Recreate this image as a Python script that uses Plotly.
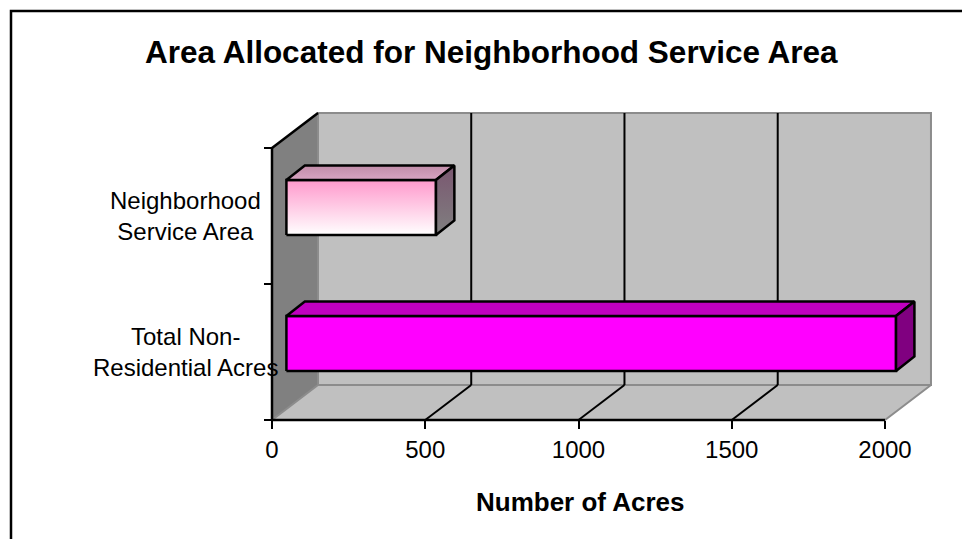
import plotly.graph_objects as go

# ---------------- data ----------------
categories = ["Total Non-<br>Residential Acres", "Neighborhood<br>Service Area"]
acres = [1989, 488]
x_ticks = [0, 500, 1000, 1500, 2000]
x_max = 2000
title_text = "Area Allocated for Neighborhood Service Area"
x_title = "Number of Acres"

# ---------------- layout geometry ----------------
W, H = 962, 539
X0PX, Y0PX = 272, 420          # pixel of (0 acres, category floor)
S = 613 / 2000                 # px per acre
T = 136                        # px per category band
xr = [(0 - X0PX) / S, (W - X0PX) / S]
yr = [(Y0PX - H) / T, Y0PX / T]
ncat = len(categories)

DX, DY = 150, 0.257            # wall depth (acres, category units)
BOX, BOY = 47, 0.36            # bar front offset
BH = 0.405                     # bar height
BDX, BDY = 60, 0.107           # bar depth

FONT = "Liberation Sans, Arial, sans-serif"
bar_styles = [
    dict(front="#FF00FF", top="#C000C0", side="#800080"),
    dict(front=("#FFFFFF", "#FF99CC"), top=("#D8A4C2", "#C08CA8"), side=("#808080", "#7A5670")),
]

fig = go.Figure()


def poly(xs, ys, fill=None, line_color=None, lw=0, grad=None):
    kw = {}
    if grad is not None:
        kw["fillgradient"] = dict(type="vertical", colorscale=[[0, grad[0]], [1, grad[1]]])
    elif fill is not None:
        kw["fillcolor"] = fill
    fig.add_trace(go.Scatter(
        x=list(xs) + [xs[0]], y=list(ys) + [ys[0]], mode="lines",
        fill="toself" if (fill is not None or grad is not None) else None,
        line=dict(color=line_color or "rgba(0,0,0,0)", width=lw),
        hoverinfo="skip", showlegend=False, **kw))


def seg(xs, ys, color, lw):
    fig.add_trace(go.Scatter(x=xs, y=ys, mode="lines", line=dict(color=color, width=lw),
                             hoverinfo="skip", showlegend=False))


# side wall
poly([0, 0, DX, DX], [0, ncat, ncat + DY, DY], fill="#808080")
# back wall
poly([DX, DX, x_max + DX, x_max + DX], [DY, ncat + DY, ncat + DY, DY],
     fill="#C0C0C0", line_color="#8C8C8C", lw=2)
# floor
poly([0, x_max, x_max + DX, DX], [0, 0, DY, DY], fill="#C0C0C0", line_color="#8C8C8C", lw=2)

# gridlines on back wall and floor
for t in x_ticks[1:-1]:
    seg([t + DX, t + DX], [DY, ncat + DY], "black", 2)
    seg([t, t + DX], [0, DY], "black", 2)

# wall edges
seg([0, 0], [0, ncat], "black", 2.5)
seg([0, DX], [ncat, ncat + DY], "black", 2.5)
seg([0, x_max], [0, 0], "black", 2.5)

# bars
for i, (v, st) in enumerate(zip(acres, bar_styles)):
    yb = i + BOY
    yt = yb + BH
    fx = [BOX, BOX + v, BOX + v, BOX]
    fy = [yb, yb, yt, yt]
    tx = [BOX, BOX + v, BOX + v + BDX, BOX + BDX]
    ty = [yt, yt, yt + BDY, yt + BDY]
    sx = [BOX + v, BOX + v + BDX, BOX + v + BDX, BOX + v]
    sy = [yb, yb + BDY, yt + BDY, yt]
    for xs, ys, key in ((fx, fy, "front"), (tx, ty, "top"), (sx, sy, "side")):
        c = st[key]
        if isinstance(c, tuple):
            poly(xs, ys, grad=c, line_color="black", lw=2.5)
        else:
            poly(xs, ys, fill=c, line_color="black", lw=2.5)

# category labels
for i, cat in enumerate(categories):
    fig.add_annotation(x=185 / W, xref="paper", y=i + 0.5, yref="y", text=cat,
                       showarrow=False, align="center", xanchor="center", yanchor="middle",
                       font=dict(family=FONT, size=24, color="black"))

fig.add_annotation(x=491.5 / W, y=1 - 52 / H, xref="paper", yref="paper",
                   text="<b>" + title_text + "</b>", showarrow=False,
                   xanchor="center", yanchor="middle",
                   font=dict(family=FONT, size=31.5, color="black"))
fig.add_annotation(x=580 / W, y=1 - 502 / H, xref="paper", yref="paper",
                   text="<b>" + x_title + "</b>", showarrow=False,
                   xanchor="center", yanchor="middle",
                   font=dict(family=FONT, size=26, color="black"))

# chart border (left + top)
fig.add_shape(type="rect", xref="paper", yref="paper",
              x0=11 / W, x1=1.05, y0=-0.05, y1=1 - 11 / H,
              line=dict(color="black", width=2.5), fillcolor="rgba(0,0,0,0)", layer="above")

fig.update_layout(
    width=W, height=H, margin=dict(l=0, r=0, t=0, b=0),
    paper_bgcolor="white", plot_bgcolor="white",
    font=dict(family=FONT, size=24, color="black"),
    xaxis=dict(range=xr, anchor="free", position=(H - Y0PX) / H,
               tickvals=x_ticks, ticks="outside", ticklen=8, tickwidth=2, tickcolor="black",
               showgrid=False, zeroline=False, showline=False,
               tickfont=dict(family=FONT, size=24, color="black"), fixedrange=True),
    yaxis=dict(range=yr, anchor="free", position=X0PX / W,
               tickvals=list(range(ncat + 1)), ticks="outside", ticklen=8, tickwidth=2,
               tickcolor="black", showticklabels=False,
               showgrid=False, zeroline=False, showline=False, fixedrange=True),
)

fig.write_html("out.html")
